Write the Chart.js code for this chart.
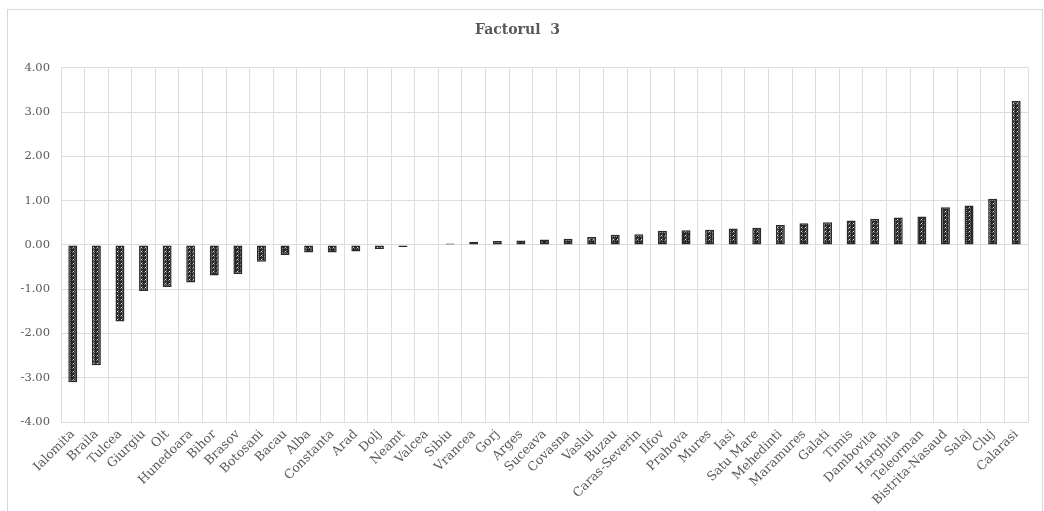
<!DOCTYPE html>
<html>
<head>
<meta charset="utf-8">
<script src="https://cdn.jsdelivr.net/npm/chart.js@4"></script>
<style>
  body { margin: 0; background: #fff; }
  #wrap { width: 1044px; height: 511px; }
</style>
</head>
<body>
<div id="wrap"><canvas id="factorChart" width="1044" height="511"></canvas></div>
<script>
const judete = ["Ialomita", "Braila", "Tulcea", "Giurgiu", "Olt", "Hunedoara", "Bihor", "Brasov", "Botosani", "Bacau",
  "Alba", "Constanta", "Arad", "Dolj", "Neamt", "Valcea", "Sibiu", "Vrancea", "Gorj", "Arges",
  "Suceava", "Covasna", "Vaslui", "Buzau", "Caras-Severin", "Ilfov", "Prahova", "Mures", "Iasi", "Satu Mare",
  "Mehedinti", "Maramures", "Galati", "Timis", "Dambovita", "Harghita", "Teleorman", "Bistrita-Nasaud", "Salaj", "Cluj", "Calarasi"];
const factor3 = [-3.10, -2.72, -1.73, -1.04, -0.95, -0.85, -0.69, -0.66, -0.38, -0.23,
  -0.17, -0.17, -0.15, -0.09, -0.05, 0.00, 0.03, 0.07, 0.09, 0.10,
  0.12, 0.14, 0.18, 0.23, 0.24, 0.32, 0.33, 0.34, 0.37, 0.39,
  0.45, 0.49, 0.51, 0.55, 0.59, 0.62, 0.64, 0.85, 0.89, 1.04, 3.25];

// dark checkered fill like the Excel pattern
const pc = document.createElement('canvas');
pc.width = 4; pc.height = 4;
const pctx = pc.getContext('2d');
pctx.fillStyle = '#262626';
pctx.fillRect(0, 0, 4, 4);
pctx.fillStyle = '#7a7a7a';
pctx.fillRect(0, 0, 1, 1);
pctx.fillRect(2, 2, 1, 1);
pctx.fillRect(2, 0, 1, 1);
pctx.fillStyle = '#e6e6e6';
pctx.fillRect(1, 3, 1, 1);
const ctxMain = document.getElementById('factorChart').getContext('2d');
const dots = ctxMain.createPattern(pc, 'repeat');

const frame = {
  id: 'frame',
  beforeDraw(chart) {
    const c = chart.ctx;
    c.save();
    c.fillStyle = '#fff';
    c.fillRect(0, 0, chart.width, chart.height);
    c.strokeStyle = '#d9d9d9';
    c.lineWidth = 1;
    c.strokeRect(7.5, 9.5, 1035, 520);
    c.restore();
  }
};

new Chart(ctxMain, {
  type: 'bar',
  data: {
    labels: judete,
    datasets: [{
      data: factor3,
      backgroundColor: dots,
      borderColor: '#2a2a2a',
      borderWidth: 1.5,
      borderSkipped: false,
      barPercentage: 0.38,
      categoryPercentage: 1
    }]
  },
  options: {
    responsive: false,
    animation: false,
    layout: { padding: { left: 7, right: 16, top: 9, bottom: 0 } },
    plugins: {
      legend: { display: false },
      tooltip: { enabled: false },
      title: {
        display: true,
        text: 'Factorul  3',
        color: '#595959',
        font: { family: 'DejaVu Serif', size: 14, weight: 'bold' },
        padding: { top: 13, bottom: 29 }
      }
    },
    scales: {
      x: {
        grid: { color: '#dedede', offset: true, drawTicks: false },
        border: { color: '#dedede' },
        ticks: {
          color: '#595959',
          font: { family: 'DejaVu Serif', size: 12.5 },
          maxRotation: 45,
          minRotation: 45,
          autoSkip: false,
          padding: 5
        },
        afterFit(scale) { scale.height = 89; }
      },
      y: {
        min: -4,
        max: 4,
        grid: { color: '#dedede', drawTicks: false },
        border: { display: false },
        ticks: {
          stepSize: 1,
          color: '#595959',
          font: { family: 'DejaVu Serif', size: 11.5 },
          padding: 11,
          callback: v => v.toFixed(2)
        },
        afterFit(scale) { scale.width = 54; }
      }
    }
  },
  plugins: [frame]
});
</script>
</body>
</html>
